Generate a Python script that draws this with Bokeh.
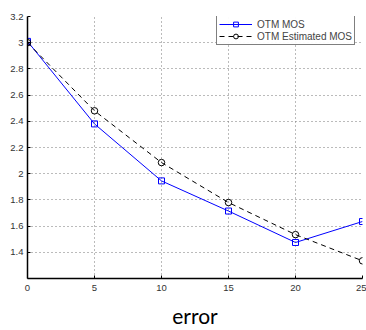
from bokeh.plotting import figure
from bokeh.models import FixedTicker, Range1d, Legend, LegendItem
from bokeh.embed import file_html
from bokeh.resources import INLINE

# error levels and MOS scores
errors = [0, 5, 10, 15, 20, 25]
otm_mos = [3.01, 2.38, 1.945, 1.715, 1.475, 1.635]
otm_est_mos = [3.0, 2.48, 2.085, 1.78, 1.535, 1.335]

x_ticks = [0, 5, 10, 15, 20, 25]
y_ticks = [1.4, 1.6, 1.8, 2.0, 2.2, 2.4, 2.6, 2.8, 3.0, 3.2]
y_tick_labels = {1.4: "1.4", 1.6: "1.6", 1.8: "1.8", 2.0: "2", 2.2: "2.2",
                 2.4: "2.4", 2.6: "2.6", 2.8: "2.8", 3.0: "3", 3.2: "3.2"}

p = figure(width=366, height=330, output_backend="svg", toolbar_location=None,
           x_range=Range1d(0, 25), y_range=Range1d(1.2, 3.2),
           min_border_left=27, min_border_right=4, min_border_top=16,
           min_border_bottom=47)
p.outline_line_color = None
p.background_fill_color = "white"

# axes
for ax in (p.xaxis[0], p.yaxis[0]):
    ax.axis_line_color = "black"
    ax.axis_line_width = 1.5
    ax.major_tick_in = 3
    ax.major_tick_out = 0
    ax.minor_tick_line_color = None
    ax.major_label_text_font = "Liberation Sans"
    ax.major_label_text_font_size = "9.5px"
    ax.major_label_text_color = "#333333"
p.xaxis.ticker = FixedTicker(ticks=x_ticks)
p.yaxis.ticker = FixedTicker(ticks=y_ticks)
p.yaxis.major_label_overrides = y_tick_labels
p.xaxis.major_label_standoff = 6
p.yaxis.major_label_standoff = 4
p.xaxis.axis_label = "error"
p.xaxis.axis_label_text_font = "Lato"
p.xaxis.axis_label_text_font_size = "21px"
p.xaxis.axis_label_text_font_style = "normal"
p.xaxis.axis_label_text_color = "black"
p.xaxis.axis_label_standoff = 9

# dotted grid
for g in (p.xgrid[0], p.ygrid[0]):
    g.grid_line_color = "#777777"
    g.grid_line_dash = "1 3"
    g.grid_line_width = 1
p.xgrid.ticker = FixedTicker(ticks=x_ticks)
p.ygrid.ticker = FixedTicker(ticks=y_ticks)

blue = "#0000ff"
l1 = p.line(errors, otm_mos, line_color=blue, line_width=1)
m1 = p.scatter(errors, otm_mos, marker="square", size=6, fill_color=None,
               line_color=blue, line_width=1)
l2 = p.line(errors, otm_est_mos, line_color="black", line_width=1, line_dash="5 4")
m2 = p.scatter(errors, otm_est_mos, marker="circle", size=6.5, fill_color=None,
               line_color="black", line_width=1)

legend = Legend(items=[LegendItem(label="OTM MOS", renderers=[l1, m1]),
                       LegendItem(label="OTM Estimated MOS", renderers=[l2, m2])],
                location=(189, 233))
legend.border_line_color = "black"
legend.border_line_width = 1.5
legend.label_text_font = "Liberation Sans"
legend.label_text_font_size = "10px"
legend.label_height = 12
legend.glyph_height = 12
legend.glyph_width = 33
legend.label_standoff = 5
legend.padding = 2
legend.spacing = 0
legend.margin = 0
p.add_layout(legend)

open("out.html", "w").write(file_html(p, INLINE))
